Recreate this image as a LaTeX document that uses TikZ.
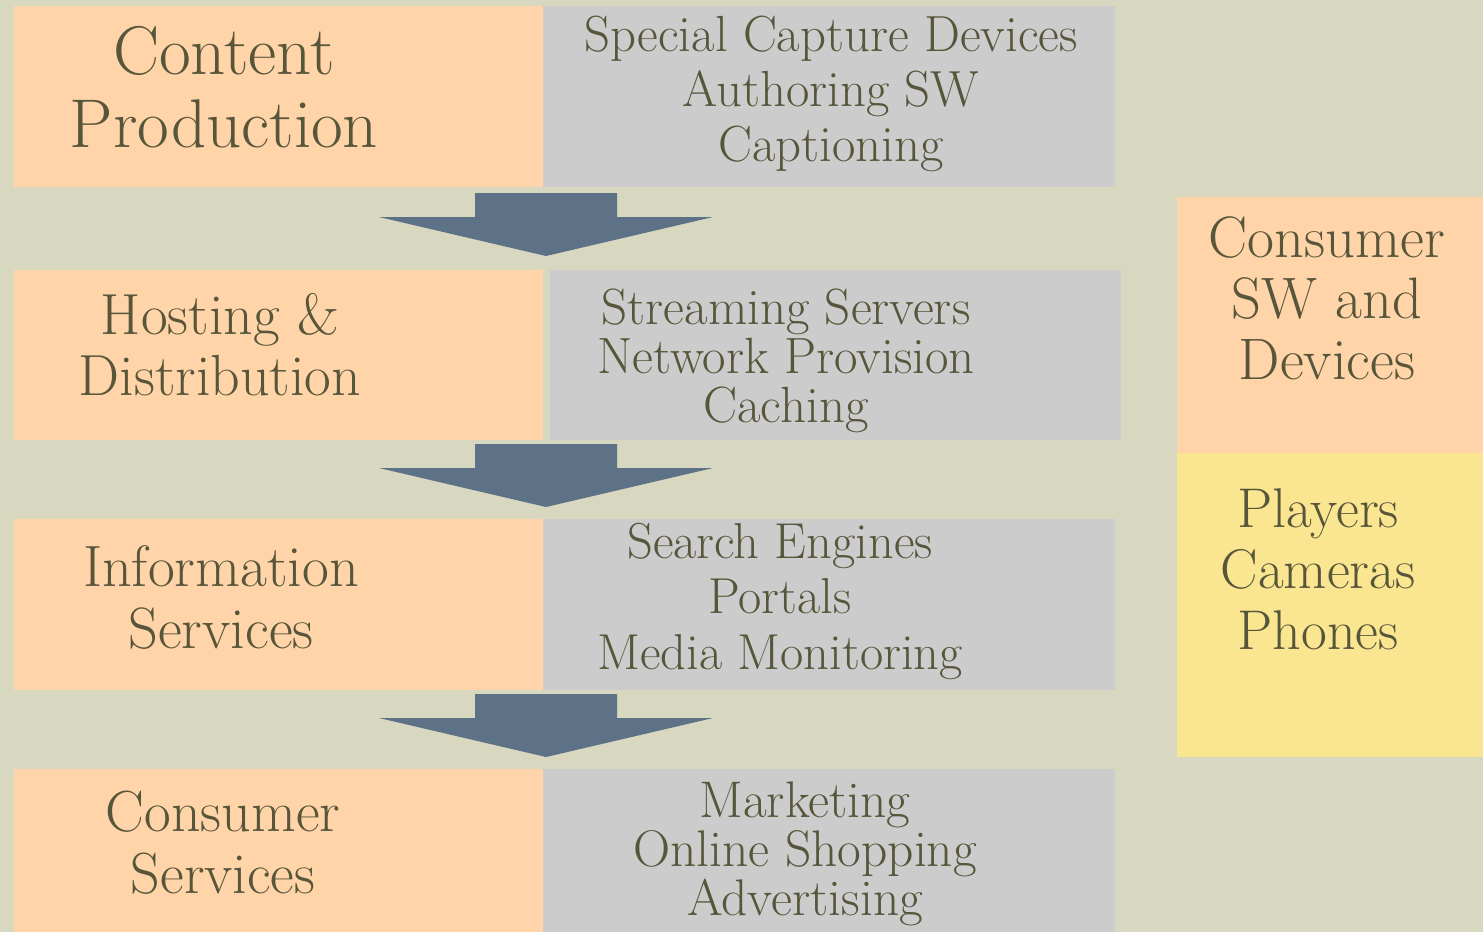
\documentclass[tikz,border=0pt]{standalone}
\usepackage{xcolor}
\usepackage{tikz}
\usetikzlibrary{positioning,calc}

\definecolor{wall}{HTML}{D8D7C0}
\definecolor{peach}{HTML}{FFD4A8}
\definecolor{silver}{HTML}{CCCCCC}
\definecolor{butter}{HTML}{FAE690}
\definecolor{ink}{HTML}{57553A}
\definecolor{slate}{HTML}{5D7187}

\begin{document}
\begin{tikzpicture}[x=1pt,y=-1pt,
    box/.style={inner sep=0pt,outer sep=0pt,minimum width=529pt},
    stage/.style={box,fill=peach},
    tools/.style={box,fill=silver,minimum width=572pt},
    words/.style={text=ink,align=center,inner sep=0pt,execute at begin node=\strut,execute at end node=\strut},
    flowarrow/.pic={\fill[slate] (-71,-31.5) -- (71,-31.5) -- (71,-7.5) -- (167,-7.5) -- (0,31.5) -- (-167,-7.5) -- (-71,-7.5) -- cycle;}]
    \fill[wall] (0,0) rectangle (1483,932);
    \useasboundingbox (0,0) rectangle (1483,932);

    % the four stages and what they use
    \node[stage,minimum height=181pt] (prod) at (278.5,96.5) {};
    \node[tools,minimum height=181pt,right=0pt of prod] (prodtools) {};
    \node[stage,minimum height=170pt,below=83pt of prod] (host) {};
    \node[tools,minimum width=571pt,minimum height=170pt,right=7pt of host] (hosttools) {};
    \node[stage,minimum height=171pt,below=79pt of host] (info) {};
    \node[tools,minimum height=171pt,right=0pt of info] (infotools) {};
    \node[stage,minimum height=163pt,below=79pt of info] (cons) {};
    \node[tools,minimum height=163pt,right=0pt of cons] (constools) {};

    % consumer side
    \node[box,fill=peach,minimum width=306pt,minimum height=256pt] (devices) at (1330,325) {};
    \node[box,fill=butter,minimum width=306pt,minimum height=304pt,below=0pt of devices] (gadgets) {};

    \pic at ($(prod.south east)!0.5!(host.north east)+(3,-4)$) {flowarrow};
    \pic at ($(host.south east)!0.5!(info.north east)+(3,-4)$) {flowarrow};
    \pic at ($(info.south east)!0.5!(cons.north east)+(3,-4)$) {flowarrow};

    \node[words,font=\fontsize{69}{73}\selectfont] (prodtxt) at (224,98) {Content\\Production};
    \node[words,font=\fontsize{50.8}{55}\selectfont] (prodlist) at (831,97) {Special Capture Devices\\Authoring SW\\Captioning};
    \node[words,font=\fontsize{58}{61}\selectfont] (hosttxt) at (220,353.3) {Hosting \&\\Distribution};
    \node[words,font=\fontsize{51}{49}\selectfont] (hostlist) at (786,363.2) {Streaming Servers\\Network Provision\\Caching};
    \node[words,font=\fontsize{58.3}{62}\selectfont] (infotxt) at (221,606.6) {Information\\Services};
    \node[words,font=\fontsize{50.5}{55.5}\selectfont] (infolist) at (780,604.4) {Search Engines\\Portals\\Media Monitoring};
    \node[words,font=\fontsize{58}{62}\selectfont] (constxt) at (223,851.6) {Consumer\\Services};
    \node[words,font=\fontsize{51.5}{49}\selectfont] (conslist) at (805,856.2) {Marketing\\Online Shopping\\Advertising};
    \node[words,font=\fontsize{58.5}{61}\selectfont] (devtxt) at (1327,306.8) {Consumer\\SW and\\Devices};
    \node[words,font=\fontsize{56}{61}\selectfont] (gadgettxt) at (1318,577.8) {Players\\Cameras\\Phones};
\end{tikzpicture}
\end{document}
